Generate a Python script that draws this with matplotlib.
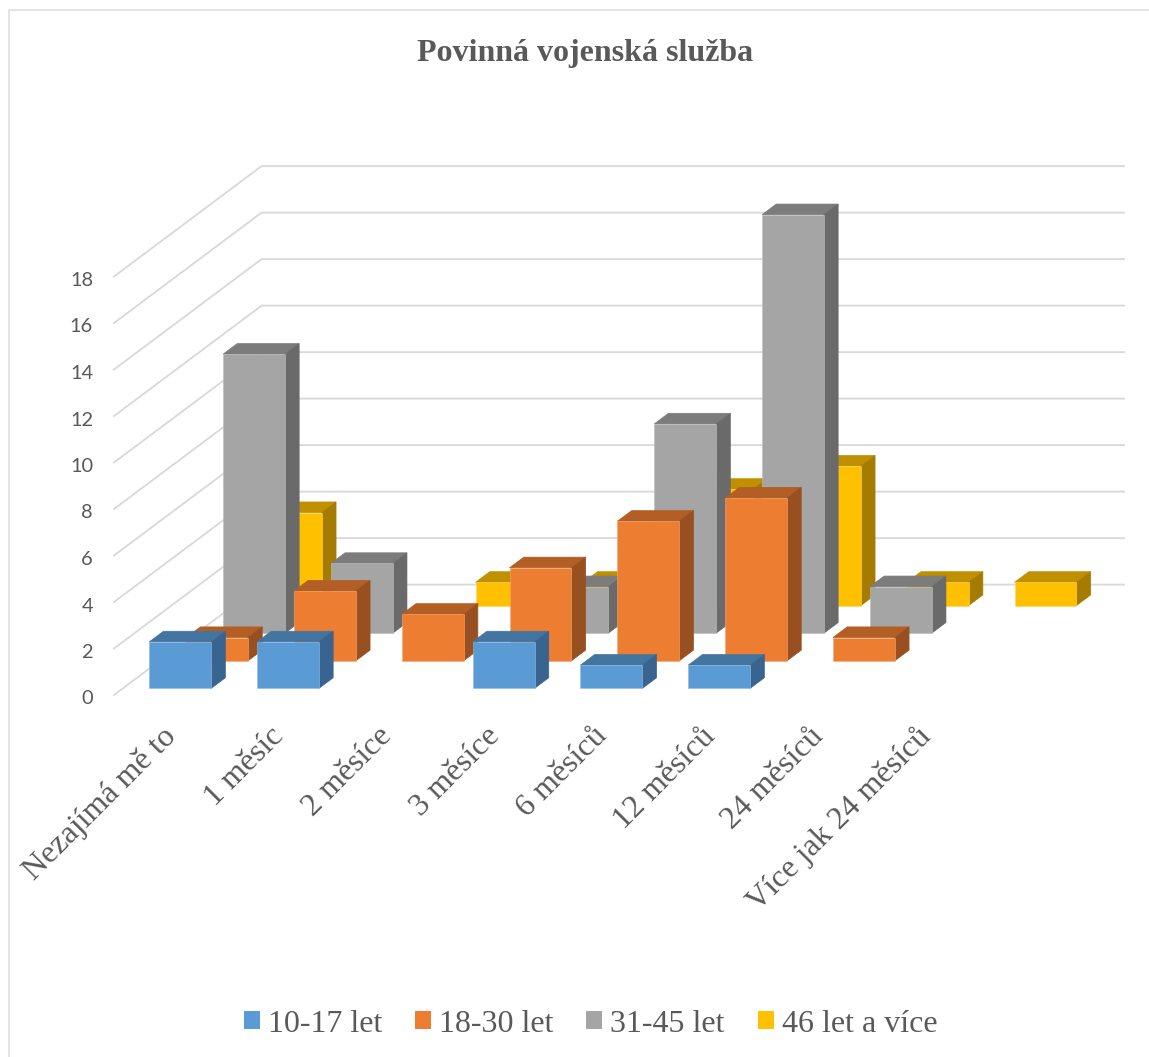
import matplotlib
matplotlib.use("Agg")
import matplotlib.pyplot as plt
from matplotlib.patches import Polygon, Patch

# ---- data ----
categories = ["Nezajímá mě to", "1 měsíc", "2 měsíce", "3 měsíce",
              "6 měsíců", "12 měsíců", "24 měsíců", "Více jak 24 měsíců"]
series_names = ["10-17 let", "18-30 let", "31-45 let", "46 let a více"]
s1017 = [2, 2, 0, 2, 1, 1, 0, 0]
s1830 = [1, 3, 2, 4, 6, 7, 1, 0]
s3145 = [12, 3, 0, 2, 9, 18, 2, 0]
s46 = [4, 0, 1, 1, 5, 6, 1, 1]
value_ticks = [0, 2, 4, 6, 8, 10, 12, 14, 16, 18]
title = "Povinná vojenská služba"

# ---- styles ----
front = ["#5B9BD5", "#ED7D31", "#A5A5A5", "#FFC000"]
top = ["#4475A1", "#B25E25", "#7C7C7C", "#C09000"]
side = ["#3A6490", "#985020", "#6A6A6A", "#A67C00"]
edge = ["#8FBBE3", "#F3A877", "#BDBDBD", "#FFD65C"]
grid_c = "#D9D9D9"
text_c = "#595959"
serif = "Liberation Serif"

# ---- oblique 3-D projection (figure pixels) ----
X0, Y0 = 114.0, 695.0
STEP, UNIT, DX, DY = 107.8, 23.25, 36.9, 27.6


def project(cat, val, depth):
    return (X0 + STEP * cat + DX * depth, Y0 - UNIT * val - DY * depth)


fig = plt.figure(figsize=(11.49, 10.57), dpi=100, facecolor="white")
ax = fig.add_axes([0, 0, 1, 1])
ax.set_xlim(0, 1149)
ax.set_ylim(1057, 0)
ax.axis("off")

# frame
ax.plot([8.5, 8.5, 1149], [1057, 10, 10], color="#E0E0E0", lw=1.3, zorder=1)

# walls and value axis
ncat = len(categories)
for v in value_ticks:
    pts = [project(0, v, 0), project(0, v, 4), project(ncat, v, 4)]
    ax.plot(*zip(*pts), color=grid_c, lw=1.35, solid_joinstyle="miter", zorder=1)
    x, y = project(0, v, 0)
    ax.text(x - 21, y + 4, str(v), ha="right", va="center", color=text_c,
            fontsize=14.4, family="Lato", zorder=5)

# bars, back to front
all_series = [s1017, s1830, s3145, s46]
BW, BL, BD, BF = 0.574, 0.245, 0.385, 0.24
z = 2
for s in range(3, -1, -1):
    for c, val in enumerate(all_series[s]):
        if val == 0:
            continue
        l, r = c + BL, c + BL + BW
        d0, d1 = s + BF, s + BF + BD
        f = [project(l, 0, d0), project(r, 0, d0), project(r, val, d0), project(l, val, d0)]
        t = [project(l, val, d0), project(r, val, d0), project(r, val, d1), project(l, val, d1)]
        sd = [project(r, 0, d0), project(r, 0, d1), project(r, val, d1), project(r, val, d0)]
        ax.add_patch(Polygon(t, closed=True, fc=top[s], ec=top[s], lw=0.5, zorder=z))
        ax.add_patch(Polygon(sd, closed=True, fc=side[s], ec=side[s], lw=0.5, zorder=z))
        ax.add_patch(Polygon(f, closed=True, fc=front[s], ec=edge[s], lw=0.4, zorder=z))
        z += 0.01

# category labels
for c, name in enumerate(categories):
    x, y = project(c, 0, 0)
    ax.text(x + 58, y + 37, name, rotation=45, rotation_mode="anchor",
            ha="right", va="center", family=serif, fontsize=23, color=text_c)

# title
ax.text(585, 53, title, ha="center", va="center", family=serif, weight="bold",
        fontsize=23, color=text_c)

# legend
handles = [Patch(fc=front[i], ec="none", label=series_names[i]) for i in range(4)]
ax.legend(handles=handles, ncol=4, loc="center", bbox_to_anchor=(590.5, 1024),
          bbox_transform=ax.transData, frameon=False,
          prop={"family": serif, "size": 23}, labelcolor=text_c,
          handlelength=0.5, handleheight=0.5, handletextpad=0.25,
          columnspacing=1.03, borderpad=0, borderaxespad=0)

fig.savefig("out.png", dpi=100)
